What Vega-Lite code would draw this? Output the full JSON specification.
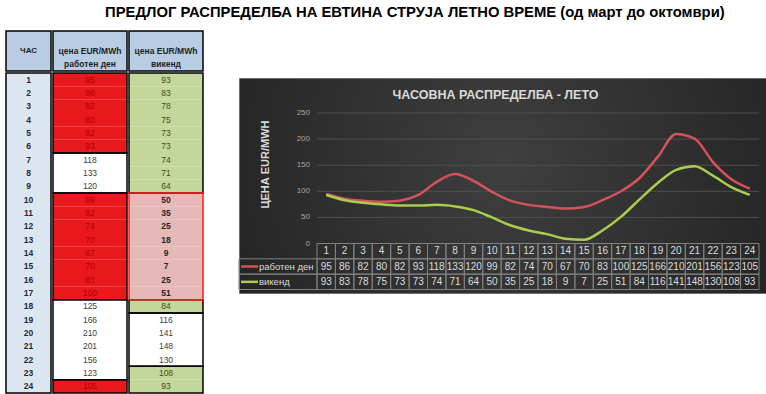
{
  "$schema": "https://vega.github.io/schema/vega-lite/v6.json",
  "padding": {"left": 5, "top": 5, "right": 0, "bottom": 0},
  "title": {
    "text": "ПРЕДЛОГ РАСПРЕДЕЛБА НА ЕВТИНА СТРУЈА ЛЕТНО ВРЕМЕ (од март до октомври)",
    "anchor": "middle",
    "dx": 28,
    "font": "Liberation Sans",
    "fontSize": 14.8,
    "fontWeight": "bold",
    "color": "#000000",
    "offset": 10
  },
  "datasets": {
    "hours": [
      {"h": 1, "work": 95, "weekend": 93, "wt": "cheap", "et": "regular"},
      {"h": 2, "work": 86, "weekend": 83, "wt": "cheap", "et": "regular"},
      {"h": 3, "work": 82, "weekend": 78, "wt": "cheap", "et": "regular"},
      {"h": 4, "work": 80, "weekend": 75, "wt": "cheap", "et": "regular"},
      {"h": 5, "work": 82, "weekend": 73, "wt": "cheap", "et": "regular"},
      {"h": 6, "work": 93, "weekend": 73, "wt": "cheap", "et": "regular"},
      {"h": 7, "work": 118, "weekend": 74, "wt": "peak", "et": "regular"},
      {"h": 8, "work": 133, "weekend": 71, "wt": "peak", "et": "regular"},
      {"h": 9, "work": 120, "weekend": 64, "wt": "peak", "et": "regular"},
      {"h": 10, "work": 99, "weekend": 50, "wt": "cheap", "et": "cheap"},
      {"h": 11, "work": 82, "weekend": 35, "wt": "cheap", "et": "cheap"},
      {"h": 12, "work": 74, "weekend": 25, "wt": "cheap", "et": "cheap"},
      {"h": 13, "work": 70, "weekend": 18, "wt": "cheap", "et": "cheap"},
      {"h": 14, "work": 67, "weekend": 9, "wt": "cheap", "et": "cheap"},
      {"h": 15, "work": 70, "weekend": 7, "wt": "cheap", "et": "cheap"},
      {"h": 16, "work": 83, "weekend": 25, "wt": "cheap", "et": "cheap"},
      {"h": 17, "work": 100, "weekend": 51, "wt": "cheap", "et": "cheap"},
      {"h": 18, "work": 125, "weekend": 84, "wt": "peak", "et": "regular"},
      {"h": 19, "work": 166, "weekend": 116, "wt": "peak", "et": "peak"},
      {"h": 20, "work": 210, "weekend": 141, "wt": "peak", "et": "peak"},
      {"h": 21, "work": 201, "weekend": 148, "wt": "peak", "et": "peak"},
      {"h": 22, "work": 156, "weekend": 130, "wt": "peak", "et": "peak"},
      {"h": 23, "work": 123, "weekend": 108, "wt": "peak", "et": "regular"},
      {"h": 24, "work": 105, "weekend": 93, "wt": "cheap", "et": "regular"}
    ],
    "groups": [
      {"col": "work", "from": 0, "to": 6, "tier": "cheap"},
      {"col": "work", "from": 6, "to": 9, "tier": "peak"},
      {"col": "work", "from": 9, "to": 17, "tier": "cheap"},
      {"col": "work", "from": 17, "to": 23, "tier": "peak"},
      {"col": "work", "from": 23, "to": 24, "tier": "cheap"},
      {"col": "weekend", "from": 0, "to": 9, "tier": "regular"},
      {"col": "weekend", "from": 17, "to": 18, "tier": "regular"},
      {"col": "weekend", "from": 18, "to": 22, "tier": "peak"},
      {"col": "weekend", "from": 22, "to": 24, "tier": "regular"},
      {"col": "weekend", "from": 9, "to": 17, "tier": "cheap"}
    ],
    "series": [
      {"row": "work", "name": "работен ден", "col": "lbl"},
      {"row": "weekend", "name": "викенд", "col": "lbl"}
    ],
    "ticks": [{"g": 0}, {"g": 50}, {"g": 100}, {"g": 150}, {"g": 200}, {"g": 250}]
  },
  "spacing": 34,
  "resolve": {"scale": {"color": "independent"}},
  "hconcat": [
    {
      "spacing": 0,
      "resolve": {"scale": {"color": "independent"}},
      "vconcat": [
        {
          "spacing": 0,
          "hconcat": [
            {
              "width": 45, "height": 40,
              "view": {"fill": "#b8cce4", "stroke": "#000000", "strokeWidth": 1.5},
              "data": {"values": [{"t": "ЧАС"}]},
              "mark": {"type": "text", "fontWeight": "bold", "fontSize": 8, "color": "#1f1f1f", "lineBreak": "\n"},
              "encoding": {"text": {"field": "t"}}
            },
            {
              "width": 74, "height": 40,
              "view": {"fill": "#b8cce4", "stroke": "#000000", "strokeWidth": 1.5},
              "data": {"values": [{"t": "цена EUR/MWh\nработен ден"}]},
              "mark": {"type": "text", "fontWeight": "bold", "fontSize": 8.5, "color": "#1f1f1f", "lineBreak": "\n", "lineHeight": 13},
              "encoding": {"text": {"field": "t"}}
            },
            {
              "width": 74, "height": 40,
              "view": {"fill": "#b8cce4", "stroke": "#000000", "strokeWidth": 1.5},
              "data": {"values": [{"t": "цена EUR/MWh\nвикенд"}]},
              "mark": {"type": "text", "fontWeight": "bold", "fontSize": 8.5, "color": "#1f1f1f", "lineBreak": "\n", "lineHeight": 13},
              "encoding": {"text": {"field": "t"}}
            }
          ]
        },
        {
          "spacing": 0,
          "resolve": {"scale": {"color": "independent"}},
          "hconcat": [
            {
              "width": 45, "height": 320,
              "view": {"fill": "#dce6f1", "stroke": "#000000", "strokeWidth": 1.5},
              "data": {"name": "hours"},
              "mark": {"type": "text", "fontWeight": "bold", "fontSize": 8.5, "color": "#1f2a38"},
              "encoding": {
                "y": {"field": "h", "type": "ordinal", "scale": {"type": "band", "paddingInner": 0, "paddingOuter": 0}, "axis": null},
                "text": {"field": "h"}
              }
            },
            {
              "width": 74, "height": 320,
              "resolve": {"scale": {"y": "independent"}},
              "layer": [
                {
                  "data": {"name": "hours"},
                  "mark": {"type": "rect"},
                  "encoding": {
                    "y": {"field": "h", "type": "ordinal", "scale": {"type": "band", "paddingInner": 0, "paddingOuter": 0}, "axis": null},
                    "color": {"field": "wt", "type": "nominal", "scale": {"domain": ["cheap", "peak"], "range": ["#e8181d", "#ffffff"]}, "legend": null}
                  }
                },
                {
                  "data": {"name": "hours"},
                  "mark": {"type": "text", "fontSize": 8.5},
                  "encoding": {
                    "y": {"field": "h", "type": "ordinal", "scale": {"type": "band", "paddingInner": 0, "paddingOuter": 0}, "axis": null},
                    "text": {"field": "work"},
                    "color": {"condition": {"test": "datum.wt === 'cheap'", "value": "#b0000c"}, "value": "#404040"}
                  }
                },
                {
                  "data": {"name": "groups"},
                  "transform": [{"filter": "datum.col === 'work'"}],
                  "mark": {"type": "rect", "fill": "transparent", "stroke": "#000000", "strokeWidth": 1.5},
                  "encoding": {
                    "y": {"field": "from", "type": "quantitative", "scale": {"domain": [0, 24], "reverse": true, "nice": false, "zero": false}, "axis": null},
                    "y2": {"field": "to"}
                  }
                }
              ]
            },
            {
              "width": 74, "height": 320,
              "resolve": {"scale": {"y": "independent"}},
              "layer": [
                {
                  "data": {"name": "hours"},
                  "mark": {"type": "rect"},
                  "encoding": {
                    "y": {"field": "h", "type": "ordinal", "scale": {"type": "band", "paddingInner": 0, "paddingOuter": 0}, "axis": null},
                    "color": {"field": "et", "type": "nominal", "scale": {"domain": ["cheap", "regular", "peak"], "range": ["#e6b9b8", "#c4d79b", "#ffffff"]}, "legend": null}
                  }
                },
                {
                  "data": {"name": "hours"},
                  "transform": [{"filter": "datum.et !== 'cheap'"}],
                  "mark": {"type": "text", "fontSize": 8.5},
                  "encoding": {
                    "y": {"field": "h", "type": "ordinal", "scale": {"type": "band", "paddingInner": 0, "paddingOuter": 0, "domain": [1,2,3,4,5,6,7,8,9,10,11,12,13,14,15,16,17,18,19,20,21,22,23,24]}, "axis": null},
                    "text": {"field": "weekend"},
                    "color": {"condition": {"test": "datum.et === 'regular'", "value": "#3e4f1f"}, "value": "#404040"}
                  }
                },
                {
                  "data": {"name": "hours"},
                  "transform": [{"filter": "datum.et === 'cheap'"}],
                  "mark": {"type": "text", "fontSize": 8.5, "fontWeight": "bold", "color": "#262626"},
                  "encoding": {
                    "y": {"field": "h", "type": "ordinal", "scale": {"type": "band", "paddingInner": 0, "paddingOuter": 0, "domain": [1,2,3,4,5,6,7,8,9,10,11,12,13,14,15,16,17,18,19,20,21,22,23,24]}, "axis": null},
                    "text": {"field": "weekend"}
                  }
                },
                {
                  "data": {"name": "groups"},
                  "transform": [{"filter": "datum.col === 'weekend'"}],
                  "mark": {"type": "rect", "fill": "transparent", "strokeWidth": 1.5},
                  "encoding": {
                    "y": {"field": "from", "type": "quantitative", "scale": {"domain": [0, 24], "reverse": true, "nice": false, "zero": false}, "axis": null},
                    "y2": {"field": "to"},
                    "stroke": {"condition": {"test": "datum.tier === 'cheap'", "value": "#ff1a1a"}, "value": "#000000"}
                  }
                }
              ]
            }
          ]
        }
      ]
    },
    {
      "spacing": 0,
      "resolve": {"scale": {"color": "independent"}},
      "vconcat": [
        {
          "width": 10, "height": 46,
          "data": {"values": []},
          "mark": "point"
        },
        {
          "width": 529, "height": 215,
          "view": {
            "fill": {"gradient": "radial", "x1": 0.5, "y1": 0.45, "x2": 0.5, "y2": 0.45, "r1": 0, "r2": 0.75,
                     "stops": [{"offset": 0, "color": "#3f3f3f"}, {"offset": 1, "color": "#1b1b1b"}]},
            "stroke": "#6e6e6e", "strokeWidth": 1
          },
          "title": {
            "text": "ЧАСОВНА РАСПРЕДЕЛБА - ЛЕТО",
            "anchor": "middle", "dx": -8, "offset": -23,
            "font": "Liberation Sans", "fontSize": 12.5, "fontWeight": "bold", "color": "#d9d9d9"
          },
          "resolve": {"scale": {"x": "independent", "y": "independent"}},
          "layer": [
            {
              "data": {"name": "ticks"},
              "transform": [{"filter": "datum.g > 0"}],
              "mark": {"type": "rule", "color": "#4f4f4f", "strokeWidth": 1},
              "encoding": {
                "y": {"field": "g", "type": "quantitative", "scale": {"domain": [0, 250], "range": [165.5, 35], "nice": false, "zero": false}, "axis": null},
                "x": {"datum": 0.5, "type": "quantitative", "scale": {"domain": [0.5, 24.5], "range": [78, 520], "nice": false, "zero": false}, "axis": null},
                "x2": {"datum": 24.5}
              }
            },
            {
              "data": {"name": "ticks"},
              "mark": {"type": "text", "align": "right", "baseline": "middle", "dx": -7, "fontSize": 8, "color": "#a6a6a6"},
              "encoding": {
                "y": {"field": "g", "type": "quantitative", "scale": {"domain": [0, 250], "range": [165.5, 35], "nice": false, "zero": false}, "axis": null},
                "x": {"datum": 0.5, "type": "quantitative", "scale": {"domain": [0.5, 24.5], "range": [78, 520], "nice": false, "zero": false}, "axis": null},
                "text": {"field": "g"}
              }
            },
            {
              "data": {"name": "hours"},
              "transform": [{"fold": ["work", "weekend"], "as": ["series", "price"]}],
              "mark": {"type": "line", "strokeWidth": 2.5, "interpolate": "monotone"},
              "encoding": {
                "x": {"field": "h", "type": "quantitative", "scale": {"domain": [0.5, 24.5], "range": [78, 520], "nice": false, "zero": false}, "axis": null},
                "y": {
                  "field": "price", "type": "quantitative",
                  "scale": {"domain": [0, 250], "range": [165.5, 35], "nice": false, "zero": false},
                  "axis": {
                    "title": "ЦЕНА EUR/MWH", "labels": false,
                    "grid": false, "domain": false, "ticks": false, "offset": -78,
                    "titleColor": "#d9d9d9", "titleFontSize": 11, "titleFont": "Liberation Sans", "titleFontWeight": "bold",
                    "titleX": -52, "titleY": 86, "titleAngle": -90, "titleAlign": "center", "titleBaseline": "middle"
                  }
                },
                "color": {"field": "series", "type": "nominal", "scale": {"domain": ["work", "weekend"], "range": ["#d4525a", "#a9cd4c"]}, "legend": null}
              }
            },
            {
              "data": {"name": "hours"},
              "transform": [{"fold": ["h", "work", "weekend"], "as": ["row", "val"]}],
              "mark": {"type": "rect", "fill": "transparent", "stroke": "#808080", "strokeWidth": 1},
              "encoding": {
                "x": {"field": "h", "type": "ordinal", "scale": {"type": "band", "range": [78, 520], "paddingInner": 0, "paddingOuter": 0}, "axis": null},
                "y": {"field": "row", "type": "nominal", "scale": {"type": "band", "domain": ["h", "work", "weekend"], "range": [165.5, 211.5], "paddingInner": 0, "paddingOuter": 0}, "axis": null}
              }
            },
            {
              "data": {"name": "hours"},
              "transform": [{"fold": ["h", "work", "weekend"], "as": ["row", "val"]}],
              "mark": {"type": "text", "fontSize": 10, "color": "#dcdcdc"},
              "encoding": {
                "x": {"field": "h", "type": "ordinal", "scale": {"type": "band", "range": [78, 520], "paddingInner": 0, "paddingOuter": 0}, "axis": null},
                "y": {"field": "row", "type": "nominal", "scale": {"type": "band", "domain": ["h", "work", "weekend"], "range": [165.5, 211.5], "paddingInner": 0, "paddingOuter": 0}, "axis": null},
                "text": {"field": "val"}
              }
            },
            {
              "data": {"name": "series"},
              "mark": {"type": "rect", "fill": "transparent", "stroke": "#808080", "strokeWidth": 1},
              "encoding": {
                "x": {"field": "col", "type": "nominal", "scale": {"type": "band", "domain": ["lbl"], "range": [0, 78], "paddingInner": 0, "paddingOuter": 0}, "axis": null},
                "y": {"field": "row", "type": "nominal", "scale": {"type": "band", "domain": ["h", "work", "weekend"], "range": [165.5, 211.5], "paddingInner": 0, "paddingOuter": 0}, "axis": null}
              }
            },
            {
              "data": {"name": "series"},
              "mark": {"type": "text", "fontSize": 9.5, "color": "#dcdcdc", "align": "left", "dx": -58},
              "encoding": {
                "x": {"datum": 0.5, "type": "quantitative", "scale": {"domain": [0.5, 24.5], "range": [78, 520], "nice": false, "zero": false}, "axis": null},
                "y": {"field": "row", "type": "nominal", "scale": {"type": "band", "domain": ["h", "work", "weekend"], "range": [165.5, 211.5], "paddingInner": 0, "paddingOuter": 0}, "axis": null},
                "text": {"field": "name"}
              }
            },
            {
              "data": {"name": "series"},
              "mark": {"type": "rule", "strokeWidth": 2.5, "xOffset": -76, "x2Offset": -59},
              "encoding": {
                "x": {"datum": 0.5, "type": "quantitative", "scale": {"domain": [0.5, 24.5], "range": [78, 520], "nice": false, "zero": false}, "axis": null},
                "x2": {"datum": 0.5},
                "y": {"field": "row", "type": "nominal", "bandPosition": 0.5, "scale": {"type": "band", "domain": ["h", "work", "weekend"], "range": [165.5, 211.5], "paddingInner": 0, "paddingOuter": 0}, "axis": null},
                "color": {"field": "row", "type": "nominal", "scale": {"domain": ["work", "weekend"], "range": ["#d4525a", "#a9cd4c"]}, "legend": null}
              }
            }
          ]
        }
      ]
    }
  ],
  "config": {
    "view": {"stroke": null},
    "font": "Liberation Sans, sans-serif"
  }
}
